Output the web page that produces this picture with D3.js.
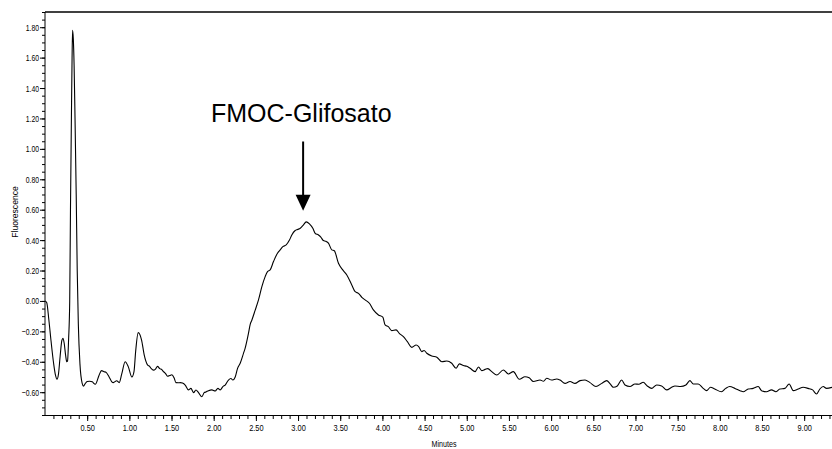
<!DOCTYPE html>
<html>
<head>
<meta charset="utf-8">
<script src="https://cdn.jsdelivr.net/npm/d3@7"></script>
<style>
  html, body { margin: 0; padding: 0; background: #fff; }
  svg { display: block; }
  text { font-family: "Liberation Sans", Arial, sans-serif; fill: #000; }
</style>
</head>
<body>
<svg id="chart" width="832" height="449"></svg>
<script>
// Fluorescence detector trace (minutes vs. fluorescence units)
const times = [
  0.000, 0.020, 0.045, 0.071, 0.102, 0.125, 0.142, 0.160, 0.180, 0.200,
  0.213, 0.228, 0.245, 0.258, 0.267, 0.280, 0.293, 0.302, 0.313, 0.321,
  0.327, 0.336, 0.345, 0.356, 0.370, 0.382, 0.395, 0.415, 0.440, 0.457,
  0.475, 0.500, 0.530, 0.560, 0.596, 0.640, 0.670, 0.700, 0.725, 0.760,
  0.790, 0.810, 0.850, 0.880, 0.910, 0.950, 0.987, 1.030, 1.055, 1.075,
  1.105, 1.145, 1.176, 1.215, 1.240, 1.260, 1.285, 1.310, 1.334, 1.360,
  1.385, 1.405, 1.430, 1.452, 1.480, 1.504, 1.530, 1.552, 1.580, 1.603,
  1.630, 1.662, 1.700, 1.730, 1.761, 1.789, 1.820, 1.860, 1.887, 1.910,
  1.938, 1.978, 2.018, 2.050, 2.077, 2.109, 2.136, 2.175, 2.204, 2.227,
  2.255, 2.282, 2.314, 2.353, 2.373, 2.412, 2.432, 2.453, 2.492, 2.531,
  2.571, 2.610, 2.638, 2.669, 2.709, 2.756, 2.788, 2.820, 2.859, 2.898,
  2.926, 2.966, 2.994, 3.026, 3.064, 3.096, 3.135, 3.175, 3.203, 3.242,
  3.270, 3.300, 3.330, 3.360, 3.400, 3.430, 3.479, 3.530, 3.578, 3.637,
  3.677, 3.716, 3.756, 3.795, 3.846, 3.893, 3.953, 4.005, 4.032, 4.070,
  4.111, 4.162, 4.200, 4.249, 4.296, 4.348, 4.400, 4.430, 4.467, 4.494,
  4.526, 4.585, 4.645, 4.704, 4.763, 4.822, 4.873, 4.912, 4.960, 5.000,
  5.040, 5.099, 5.139, 5.178, 5.218, 5.250, 5.296, 5.356, 5.434, 5.493,
  5.552, 5.623, 5.690, 5.740, 5.790, 5.869, 5.910, 5.948, 6.007, 6.066,
  6.106, 6.165, 6.224, 6.283, 6.343, 6.402, 6.461, 6.532, 6.600, 6.659,
  6.700, 6.738, 6.785, 6.836, 6.876, 6.935, 6.994, 7.040, 7.092, 7.140,
  7.192, 7.251, 7.310, 7.370, 7.429, 7.468, 7.535, 7.598, 7.645, 7.685,
  7.744, 7.803, 7.843, 7.890, 7.940, 8.020, 8.070, 8.117, 8.180, 8.240,
  8.277, 8.336, 8.395, 8.455, 8.495, 8.554, 8.613, 8.664, 8.712, 8.771,
  8.822, 8.870, 8.930, 8.988, 9.047, 9.100, 9.147, 9.186, 9.226, 9.265,
  9.330
];
const signal = [
  0.000, -0.010, -0.120, -0.260, -0.410, -0.490, -0.515, -0.480, -0.360, -0.260,
  -0.245, -0.280, -0.360, -0.400, -0.395, -0.250, 0.000, 0.600, 1.200, 1.600,
  1.780, 1.720, 1.550, 1.200, 0.700, 0.200, -0.150, -0.420, -0.540, -0.560,
  -0.545, -0.530, -0.528, -0.532, -0.548, -0.490, -0.458, -0.465, -0.470, -0.500,
  -0.530, -0.537, -0.525, -0.537, -0.480, -0.400, -0.432, -0.500, -0.465, -0.330,
  -0.208, -0.257, -0.355, -0.420, -0.430, -0.445, -0.455, -0.448, -0.430, -0.445,
  -0.452, -0.465, -0.478, -0.495, -0.490, -0.485, -0.505, -0.537, -0.538, -0.537,
  -0.540, -0.553, -0.585, -0.575, -0.603, -0.586, -0.603, -0.630, -0.603, -0.598,
  -0.590, -0.585, -0.592, -0.575, -0.585, -0.563, -0.553, -0.520, -0.510, -0.520,
  -0.500, -0.445, -0.410, -0.345, -0.310, -0.213, -0.155, -0.125, -0.060, 0.007,
  0.094, 0.160, 0.193, 0.204, 0.259, 0.314, 0.336, 0.357, 0.368, 0.400,
  0.434, 0.463, 0.470, 0.478, 0.500, 0.520, 0.507, 0.478, 0.445, 0.434,
  0.420, 0.397, 0.392, 0.380, 0.336, 0.330, 0.248, 0.204, 0.171, 0.105,
  0.061, 0.050, 0.024, 0.007, -0.015, -0.059, -0.092, -0.107, -0.158, -0.169,
  -0.195, -0.190, -0.213, -0.235, -0.268, -0.305, -0.290, -0.300, -0.333, -0.326,
  -0.344, -0.362, -0.370, -0.400, -0.395, -0.410, -0.443, -0.414, -0.425, -0.430,
  -0.443, -0.465, -0.434, -0.458, -0.450, -0.445, -0.465, -0.487, -0.454, -0.480,
  -0.465, -0.515, -0.498, -0.505, -0.530, -0.520, -0.528, -0.508, -0.520, -0.513,
  -0.520, -0.542, -0.530, -0.542, -0.524, -0.520, -0.537, -0.563, -0.542, -0.524,
  -0.545, -0.568, -0.559, -0.520, -0.553, -0.563, -0.546, -0.548, -0.535, -0.559,
  -0.575, -0.553, -0.559, -0.585, -0.568, -0.559, -0.563, -0.553, -0.524, -0.546,
  -0.546, -0.575, -0.590, -0.568, -0.579, -0.597, -0.575, -0.563, -0.575, -0.590,
  -0.597, -0.579, -0.575, -0.563, -0.590, -0.597, -0.585, -0.597, -0.579, -0.575,
  -0.546, -0.590, -0.579, -0.568, -0.575, -0.585, -0.612, -0.579, -0.563, -0.575,
  -0.568
];

// Axis ticks
const yMajorTicks = [-0.6, -0.4, -0.2, 0.0, 0.2, 0.4, 0.6, 0.8, 1.0, 1.2, 1.4, 1.6, 1.8];
const xMajorTicks = [0.5, 1.0, 1.5, 2.0, 2.5, 3.0, 3.5, 4.0, 4.5, 5.0, 5.5, 6.0, 6.5, 7.0, 7.5, 8.0, 8.5, 9.0];

// Annotation
const peakLabel = "FMOC-Glifosato";
const peakTime = 3.06;
const peakValue = 0.52;

const xTitle = "Minutes";
const yTitle = "Fluorescence";

const svg = d3.select("#chart");
const W = 832, H = 449;
const m = { top: 12, right: 0, bottom: 34, left: 45 };

const x = d3.scaleLinear().domain([0, 9.33]).range([m.left, W - m.right]);
const y = d3.scaleLinear().domain([-0.75, 1.9]).range([H - m.bottom, m.top]);

// condense a text element horizontally to the given fraction
function condense(sel, k) {
  sel.each(function () {
    const w = this.getComputedTextLength();
    d3.select(this).attr("textLength", w * k).attr("lengthAdjust", "spacingAndGlyphs");
  });
}

// minor ticks
const yMinor = d3.range(-0.75, 1.9001, 0.05);
const xMinor = d3.range(0.1, 9.3301, 0.1);

svg.append("g")
  .attr("transform", `translate(${m.left},0)`)
  .call(d3.axisLeft(y).tickValues(yMinor).tickSize(3).tickFormat(""))
  .call(g => g.select(".domain").remove())
  .selectAll("line").attr("stroke", "#000");

svg.append("g")
  .attr("transform", `translate(0,${H - m.bottom})`)
  .call(d3.axisBottom(x).tickValues(xMinor).tickSize(4).tickFormat(""))
  .call(g => g.select(".domain").remove())
  .selectAll("line").attr("stroke", "#000");

// major ticks with labels
const yAxis = svg.append("g")
  .attr("transform", `translate(${m.left},0)`)
  .call(d3.axisLeft(y).tickValues(yMajorTicks).tickSize(5).tickPadding(1).tickFormat(d3.format(".2f")));
yAxis.select(".domain").remove();
yAxis.selectAll("line").attr("stroke", "#000");
yAxis.selectAll("text").attr("font-size", 9.5).attr("fill", "#000").call(condense, 0.72);

const xAxis = svg.append("g")
  .attr("transform", `translate(0,${H - m.bottom})`)
  .call(d3.axisBottom(x).tickValues(xMajorTicks).tickSize(6).tickPadding(3).tickFormat(d3.format(".2f")));
xAxis.select(".domain").remove();
xAxis.selectAll("line").attr("stroke", "#000");
xAxis.selectAll("text").attr("font-size", 9.5).attr("fill", "#000").call(condense, 0.78);

// frame: left axis, bottom axis, top border
svg.append("line")
  .attr("x1", m.left).attr("x2", m.left)
  .attr("y1", m.top).attr("y2", H - m.bottom)
  .attr("stroke", "#000").attr("stroke-width", 1);
svg.append("line")
  .attr("x1", m.left).attr("x2", W)
  .attr("y1", H - m.bottom + 0.5).attr("y2", H - m.bottom + 0.5)
  .attr("stroke", "#000").attr("stroke-width", 1);
svg.append("line")
  .attr("x1", m.left).attr("x2", W)
  .attr("y1", m.top).attr("y2", m.top)
  .attr("stroke", "#000").attr("stroke-width", 1.6);

// trace
const data = times.map((t, i) => [t, signal[i]]);
svg.append("clipPath").attr("id", "plot-clip")
  .append("rect").attr("x", m.left).attr("y", m.top)
  .attr("width", W - m.left).attr("height", H - m.bottom - m.top);

svg.append("path")
  .datum(data)
  .attr("clip-path", "url(#plot-clip)")
  .attr("fill", "none")
  .attr("stroke", "#000")
  .attr("stroke-width", 1.1)
  .attr("stroke-linejoin", "round")
  .attr("d", d3.line().x(d => x(d[0])).y(d => y(d[1])).curve(d3.curveMonotoneX));

// axis titles
svg.append("text")
  .attr("x", 444).attr("y", 447)
  .attr("text-anchor", "middle")
  .attr("font-size", 9.5)
  .attr("fill", "#000")
  .text(xTitle)
  .call(condense, 0.75);

svg.append("text")
  .attr("transform", "translate(18,212) rotate(-90)")
  .attr("text-anchor", "middle")
  .attr("font-size", 9.5)
  .attr("fill", "#000")
  .text(yTitle)
  .call(condense, 0.9);

// peak annotation: label and downward arrow
const ax = x(peakTime);
const tipY = y(peakValue) - 11;
svg.append("text")
  .attr("x", 211).attr("y", 121.5)
  .attr("font-size", 25)
  .attr("fill", "#000")
  .text(peakLabel);

svg.append("line")
  .attr("x1", ax).attr("x2", ax)
  .attr("y1", 141.5).attr("y2", tipY - 14)
  .attr("stroke", "#000").attr("stroke-width", 2);
svg.append("path")
  .attr("d", `M${ax - 7.5},${tipY - 16}L${ax + 7.5},${tipY - 16}L${ax},${tipY}Z`)
  .attr("fill", "#000");
</script>
</body>
</html>
